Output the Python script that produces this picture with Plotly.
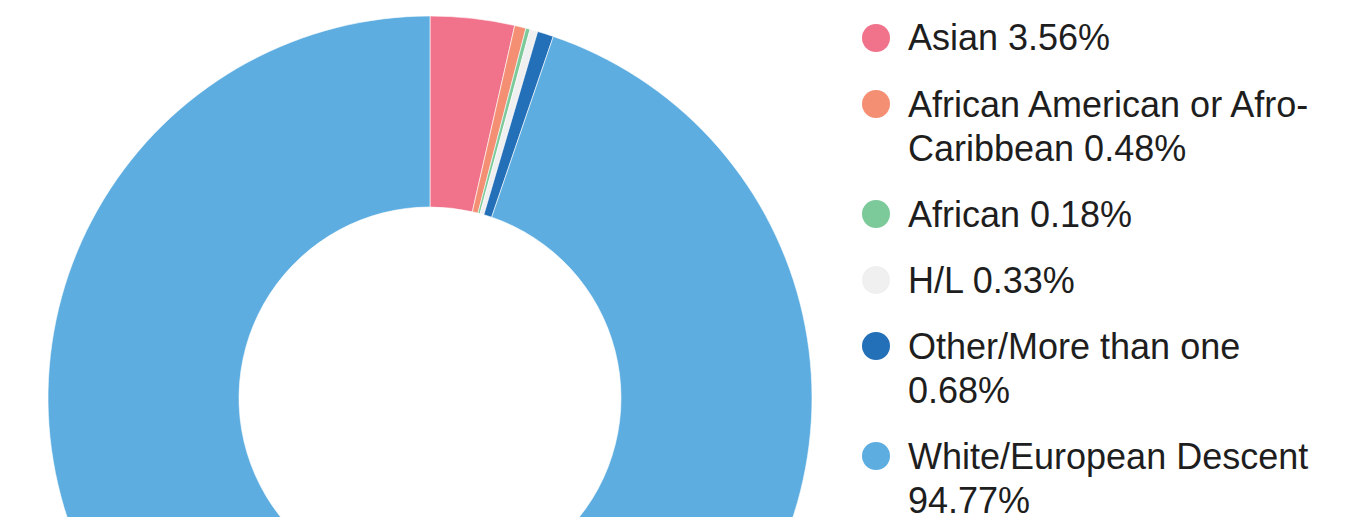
import plotly.graph_objects as go

labels = ["Asian", "African American or Afro-Caribbean", "African", "H/L",
          "Other/More than one", "White/European Descent"]
values = [3.56, 0.48, 0.18, 0.33, 0.68, 94.77]
colors = ["#f0728b", "#f58f74", "#7cc99a", "#f0f0f0", "#2470b8", "#5dade0"]
legend_lines = [
    ["Asian 3.56%"],
    ["African American or Afro-", "Caribbean 0.48%"],
    ["African 0.18%"],
    ["H/L 0.33%"],
    ["Other/More than one", "0.68%"],
    ["White/European Descent", "94.77%"],
]

W, H = 1333, 800
OFF = 8  # default body margin of the page

fig = go.Figure()
fig.add_trace(go.Pie(
    labels=labels, values=values, hole=0.5, sort=False, direction="clockwise",
    rotation=0, textinfo="none", hoverinfo="label+percent",
    marker=dict(colors=colors, line=dict(color="white", width=0.6)),
    showlegend=False,
    domain=dict(x=[(48 - OFF) / W, (812 - OFF) / W],
                y=[1 - (780 - OFF) / H, 1 - (16 - OFF) / H]),
))

shapes = []
annotations = []
y = 38
for lines, col in zip(legend_lines, colors):
    cy = y - OFF
    shapes.append(dict(type="circle", xref="paper", yref="paper",
                       xsizemode="pixel", ysizemode="pixel",
                       xanchor=(876 - OFF) / W, yanchor=1 - cy / H,
                       x0=-14, x1=14, y0=-14, y1=14,
                       fillcolor=col, line=dict(width=0)))
    for k, ln in enumerate(lines):
        ly = cy + 44 * k
        annotations.append(dict(text=ln, xref="paper", yref="paper",
                                x=(906 - OFF) / W, y=1 - ly / H,
                                xanchor="left", yanchor="middle", showarrow=False,
                                font=dict(family="Liberation Sans, Arial", size=36, color="#1e1e1e")))
    y += 66 + 44 * (len(lines) - 1)

fig.update_layout(width=W, height=H, margin=dict(l=0, r=0, t=0, b=0),
                  paper_bgcolor="white", plot_bgcolor="white",
                  shapes=shapes, annotations=annotations)
fig.write_html("out.html")
